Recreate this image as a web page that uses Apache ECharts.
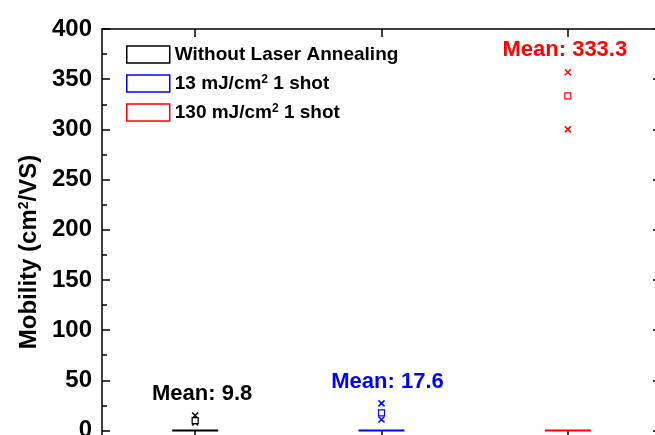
<!DOCTYPE html>
<html>
<head>
<meta charset="utf-8">
<script src="https://cdn.jsdelivr.net/npm/echarts@6/dist/echarts.min.js"></script>
<style>
  html, body { margin: 0; padding: 0; background: #fff; }
  #chart { width: 655px; height: 435px; }
</style>
</head>
<body>
<div id="chart"></div>
<script>
// Sample groups
const categories = ['Without Laser Annealing', '13 mJ/cm² 1 shot', '130 mJ/cm² 1 shot'];
const groupColors = ['#000000', '#0000ff', '#ff0000'];

// Box statistics per group: [min, Q1, median, Q3, max]
const boxValues = [
  [0, 0, 0, 0, 0],
  [0, 0, 0, 0, 0],
  [0, 0, 0, 0, 0]
];

// Sample extremes and mean per group
const sampleMin = [8, 11, 300];
const sampleMax = [15, 27, 357];
const sampleMean = [9.8, 17.6, 333.3];

// Y axis ticks
const yMajorTicks = [0, 50, 100, 150, 200, 250, 300, 350, 400];
const yMinorTicks = [25, 75, 125, 175, 225, 275, 325, 375];
const yRange = [-8.5, 400];

// Horizontal nudge of the mean labels (px)
const labelShift = [7, 6, -3];

const FONT = 'Arial, "Liberation Sans", sans-serif';
const crossPath = 'path://M0,0L10,10M10,0L0,10';

const chart = echarts.init(document.getElementById('chart'), null, { renderer: 'canvas' });

const supRich = {
  sup: { fontSize: 12, fontWeight: 'bold', fontFamily: FONT, color: '#000', verticalAlign: 'top', lineHeight: 12 }
};

function richName(name) {
  return name.replace('²', '{sup|2}');
}

const scatterSeries = categories.map((name, i) => ({
  name: name,
  type: 'scatter',
  xAxisIndex: 0,
  yAxisIndex: 0,
  z: 5,
  itemStyle: { opacity: 1 },
  data: [
    {
      value: [i, sampleMin[i]],
      symbol: crossPath, symbolSize: 6,
      itemStyle: { color: 'transparent', borderColor: groupColors[i], borderWidth: 1.5, opacity: 1 }
    },
    {
      value: [i, sampleMax[i]],
      symbol: crossPath, symbolSize: 6,
      itemStyle: { color: 'transparent', borderColor: groupColors[i], borderWidth: 1.5, opacity: 1 },
      label: {
        show: true,
        position: 'top',
        distance: 7,
        offset: [labelShift[i], 0],
        formatter: 'Mean: ' + sampleMean[i],
        color: groupColors[i],
        opacity: 1,
        fontSize: 22,
        fontWeight: 'bold',
        fontFamily: FONT
      }
    },
    {
      value: [i, sampleMean[i]],
      symbol: 'rect', symbolSize: 6,
      itemStyle: { color: '#ffffff', borderColor: groupColors[i], borderWidth: 1.2, opacity: 1 }
    }
  ],
  emphasis: { disabled: true },
  animation: false
}));

const option = {
  animation: false,
  backgroundColor: '#ffffff',
  grid: { left: 102, right: -6, top: 29, bottom: -4, outerBoundsMode: 'none', containLabel: false },
  legend: {
    orient: 'vertical',
    left: 126,
    top: 45,
    padding: 0,
    itemWidth: 43,
    itemHeight: 17,
    itemGap: 10,
    selectedMode: false,
    data: categories.map((name, i) => ({
      name: name,
      icon: 'rect',
      itemStyle: { color: '#ffffff', borderColor: groupColors[i], borderWidth: 1.5 }
    })),
    formatter: richName,
    textStyle: {
      fontSize: 19, fontWeight: 'bold', fontFamily: FONT, color: '#000',
      rich: supRich
    }
  },
  xAxis: [
    {
      type: 'category', data: categories, position: 'bottom', boundaryGap: true,
      axisLine: { show: true, onZero: false, lineStyle: { color: '#000', width: 1.5 } },
      axisTick: { show: true, inside: true, alignWithLabel: true, length: 8, lineStyle: { color: '#000', width: 1.5 } },
      axisLabel: { show: false },
      splitLine: { show: false }
    },
    {
      type: 'category', data: categories, position: 'top', boundaryGap: true,
      axisLine: { show: true, onZero: false, lineStyle: { color: '#000', width: 1.5 } },
      axisTick: { show: true, inside: true, alignWithLabel: true, length: 8, lineStyle: { color: '#000', width: 1.5 } },
      axisLabel: { show: false },
      splitLine: { show: false }
    }
  ],
  yAxis: [
    {
      type: 'value', position: 'left', min: yRange[0], max: yRange[1],
      axisLine: { show: true, onZero: false, lineStyle: { color: '#000', width: 1.5 } },
      axisTick: { show: true, inside: true, length: 8, customValues: yMajorTicks, lineStyle: { color: '#000', width: 1.5 } },
      axisLabel: {
        show: true, customValues: yMajorTicks, margin: 10,
        color: '#000', fontSize: 24, fontWeight: 'bold', fontFamily: FONT
      },
      splitLine: { show: false }
    },
    {
      type: 'value', position: 'left', min: yRange[0], max: yRange[1],
      axisLine: { show: false },
      axisTick: { show: true, inside: true, length: 5, customValues: yMinorTicks, lineStyle: { color: '#000', width: 1.5 } },
      axisLabel: { show: false },
      splitLine: { show: false }
    },
    {
      type: 'value', position: 'right', min: yRange[0], max: yRange[1],
      axisLine: { show: true, onZero: false, lineStyle: { color: '#000', width: 1.5 } },
      axisTick: { show: true, inside: true, length: 8, customValues: yMajorTicks, lineStyle: { color: '#000', width: 1.5 } },
      axisLabel: { show: false },
      splitLine: { show: false }
    }
  ],
  graphic: [
    {
      type: 'text',
      x: 29,
      y: 252,
      rotation: Math.PI / 2,
      style: {
        text: 'Mobility (cm{sup|2}/VS)',
        fontSize: 24,
        fontWeight: 'bold',
        fontFamily: FONT,
        fill: '#000',
        align: 'center',
        verticalAlign: 'middle',
        rich: {
          sup: { fontSize: 14, fontWeight: 'bold', fontFamily: FONT, fill: '#000', verticalAlign: 'top', lineHeight: 14 }
        }
      }
    }
  ],
  series: [
    {
      name: 'box',
      type: 'boxplot',
      xAxisIndex: 0,
      yAxisIndex: 0,
      boxWidth: [46, 46],
      data: boxValues.map((v, i) => ({
        value: v,
        itemStyle: { color: 'transparent', borderColor: groupColors[i], borderWidth: 2 }
      })),
      emphasis: { disabled: true },
      z: 3
    }
  ].concat(scatterSeries)
};

chart.setOption(option);
</script>
</body>
</html>
